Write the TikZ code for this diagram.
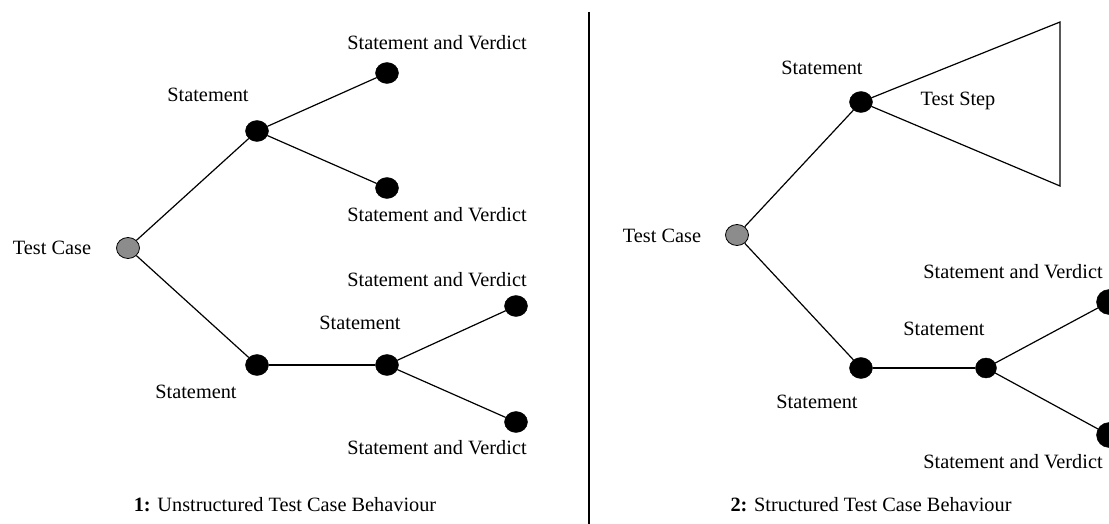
\documentclass[tikz,border=0pt]{standalone}
\usepackage{fontspec}
\setmainfont{Liberation Serif}
\usetikzlibrary{shapes.geometric}
\begin{document}
\begin{tikzpicture}[x=1pt,y=-1pt,
  every node/.style={font=\fontsize{20.3}{24}\selectfont, inner sep=0pt},
  dot/.style={ellipse, fill=black, draw=black, minimum width=23pt, minimum height=21pt, inner sep=0pt},
  smalldot/.style={dot, minimum width=21pt, minimum height=20pt},
  bigdot/.style={dot, minimum width=25pt, minimum height=25pt},
  root/.style={dot, fill=gray!90, line width=0.8pt},
  edge/.style={line width=1.2pt},
  lbl/.style={text=black}]
\useasboundingbox (0,0) rectangle (1109,524);
\fill[white] (0,0) rectangle (1109,524);
% ---------- left panel ----------
\node[root] (ltc) at (128,248) {};
\node[dot] (ls1) at (257,131) {};
\node[dot] (lv1) at (387,73) {};
\node[dot] (lv2) at (387,188) {};
\node[dot] (ls2) at (257,365) {};
\node[dot] (ls3) at (387,365) {};
\node[dot] (lv3) at (516,306) {};
\node[dot] (lv4) at (516,422) {};
\draw[edge] (ltc) -- (ls1);
\draw[edge] (ls1) -- (lv1);
\draw[edge] (ls1) -- (lv2);
\draw[edge] (ltc) -- (ls2);
\draw[edge] (ls2) -- (ls3);
\draw[edge] (ls3) -- (lv3);
\draw[edge] (ls3) -- (lv4);
\node[lbl] (ltcl) at (52,248) {Test Case};
\node[lbl] (ls1l) at (208,95) {Statement};
\node[lbl] (lv1l) at (437,43) {Statement and Verdict};
\node[lbl] (lv2l) at (437,215) {Statement and Verdict};
\node[lbl] (lv3l) at (437,280) {Statement and Verdict};
\node[lbl] (lv4l) at (437,448) {Statement and Verdict};
\node[lbl] (ls3l) at (360,323) {Statement};
\node[lbl] (ls2l) at (196,392) {Statement};
\node[lbl] (lcap) at (285,505) {\textbf{1:} Unstructured Test Case Behaviour};
% ---------- divider ----------
\coordinate (dtop) at (589,12);
\coordinate (dbot) at (589,524);
\draw[line width=2pt] (dtop) -- (dbot);
% ---------- right panel ----------
\node[root] (rtc) at (737,235) {};
\node[dot] (rs1) at (861,102) {};
\node[dot] (rs2) at (861,368) {};
\node[smalldot] (rs3) at (986,368) {};
\node[bigdot] (rv1) at (1109,302) {};
\node[bigdot] (rv2) at (1109,435) {};
\coordinate (tstop) at (1060,22);
\coordinate (tsbot) at (1060,186);
\draw[edge] (rtc) -- (rs1);
\draw[edge] (rs1) -- (tstop) -- (tsbot) -- (rs1);
\draw[edge] (rtc) -- (rs2);
\draw[edge] (rs2) -- (rs3);
\draw[edge] (rs3) -- (rv1);
\draw[edge] (rs3) -- (rv2);
\node[lbl] (rtcl) at (662,236) {Test Case};
\node[lbl] (rs1l) at (822,68) {Statement};
\node[lbl] (tsl) at (958,101) {Test Step};
\node[lbl] (rv1l) at (1013,272) {Statement and Verdict};
\node[lbl] (rv2l) at (1013,462) {Statement and Verdict};
\node[lbl] (rs3l) at (944,329) {Statement};
\node[lbl] (rs2l) at (817,402) {Statement};
\node[lbl] (rcap) at (871,505) {\textbf{2:} Structured Test Case Behaviour};
\end{tikzpicture}
\end{document}
